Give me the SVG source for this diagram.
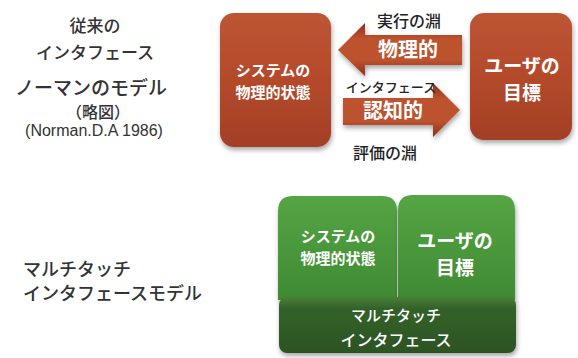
<svg xmlns="http://www.w3.org/2000/svg" width="578" height="358" viewBox="0 0 578 358">
<defs>
<linearGradient id="red" x1="0" y1="0" x2="0" y2="1">
<stop offset="0" stop-color="#bd5533"/>
<stop offset="0.5" stop-color="#b44a2c"/>
<stop offset="1" stop-color="#a33f25"/>
</linearGradient>
<linearGradient id="arrowg" x1="0" y1="0" x2="0" y2="1">
<stop offset="0" stop-color="#8e2f18"/>
<stop offset="0.3" stop-color="#bd532f"/>
<stop offset="0.7" stop-color="#bd532f"/>
<stop offset="1" stop-color="#8e2f18"/>
</linearGradient>
<linearGradient id="green" x1="0" y1="0" x2="0" y2="1">
<stop offset="0" stop-color="#55a544"/>
<stop offset="1" stop-color="#3f8a33"/>
</linearGradient>
<linearGradient id="dgreen" x1="0" y1="0" x2="0" y2="1">
<stop offset="0" stop-color="#4a7f37"/>
<stop offset="0.2" stop-color="#33622a"/>
<stop offset="1" stop-color="#2c5323"/>
</linearGradient>
<filter id="sh" x="-20%" y="-20%" width="140%" height="150%">
<feGaussianBlur in="SourceAlpha" stdDeviation="2.5"/>
<feOffset dx="1" dy="3"/>
<feComponentTransfer><feFuncA type="linear" slope="0.35"/></feComponentTransfer>
<feMerge><feMergeNode/><feMergeNode in="SourceGraphic"/></feMerge>
</filter>
</defs>
<style>
text{font-family:"Noto Sans CJK JP","Noto Sans",sans-serif;text-anchor:middle}
.lt{fill:#333;font-size:17px;font-weight:500}
.wt{fill:#fff;font-weight:bold}
.bt{fill:#222;font-size:16px;font-weight:500}
</style>
<rect width="578" height="358" fill="#ffffff"/>

<g id="title-traditional">
<text class="lt" x="95" y="32">従来の</text>
<text class="lt" x="95" y="59">インタフェース</text>
<text class="lt" x="91" y="95" style="font-size:19px">ノーマンのモデル</text>
<text class="lt" x="98" y="118" style="font-size:16px">（略図）</text>
<text class="lt" x="94" y="136" style="font-size:16px;font-weight:normal;font-family:'Liberation Sans','Noto Sans',sans-serif">(Norman.D.A 1986)</text>
</g>

<g id="title-multitouch">
<text class="lt" x="23" y="276" style="font-size:18px;text-anchor:start">マルチタッチ</text>
<text class="lt" x="23" y="300" style="font-size:18px;text-anchor:start">インタフェースモデル</text>
</g>

<g id="system-state">
<rect x="220" y="13" width="111" height="134" rx="14" fill="url(#red)" filter="url(#sh)"/>
<text class="wt" x="273" y="76" style="font-size:15px">システムの</text>
<text class="wt" x="273" y="98" style="font-size:15px">物理的状態</text>
</g>

<g id="user-goal">
<rect x="470" y="13" width="102" height="127" rx="14" fill="url(#red)" filter="url(#sh)"/>
<text class="wt" x="522" y="73" style="font-size:19px">ユーザの</text>
<text class="wt" x="522" y="100" style="font-size:19px">目標</text>
</g>

<g id="connectors">
<polygon points="338,50 365,23 365,35 462,35 462,65 365,65 365,76" fill="url(#arrowg)" filter="url(#sh)"/>
<polygon points="343,98 433,98 433,83 460,110 433,137 433,125 343,125" fill="url(#arrowg)" filter="url(#sh)"/>
<text class="wt" x="408" y="57" style="font-size:20px">物理的</text>
<text class="wt" x="393" y="118" style="font-size:20px">認知的</text>
<text class="bt" x="409" y="27">実行の淵</text>
<text class="bt" x="391" y="92" style="font-size:13px">インタフェース</text>
<text class="bt" x="385" y="159">評価の淵</text>
</g>

<g id="mt-system-state">
<path d="M278,300 V211 Q278,196 293,196 H382 Q397,196 397,211 V300 Z" fill="url(#green)" filter="url(#sh)"/>
<text class="wt" x="338" y="242" style="font-size:15px">システムの</text>
<text class="wt" x="338" y="264" style="font-size:15px">物理的状態</text>
</g>

<g id="mt-user-goal">
<path d="M398,300 V210 Q398,195 413,195 H500 Q515,195 515,210 V300 Z" fill="url(#green)" filter="url(#sh)"/>
<text class="wt" x="455" y="248" style="font-size:19px">ユーザの</text>
<text class="wt" x="455" y="275" style="font-size:19px">目標</text>
</g>

<g id="mt-interface">
<rect x="279" y="297" width="237" height="56" rx="8" fill="url(#dgreen)" filter="url(#sh)"/>
<text class="wt" x="396" y="321" style="font-size:15px;font-weight:500">マルチタッチ</text>
<text class="wt" x="396" y="346" style="font-size:16px;font-weight:500">インタフェース</text>
</g>
</svg>
